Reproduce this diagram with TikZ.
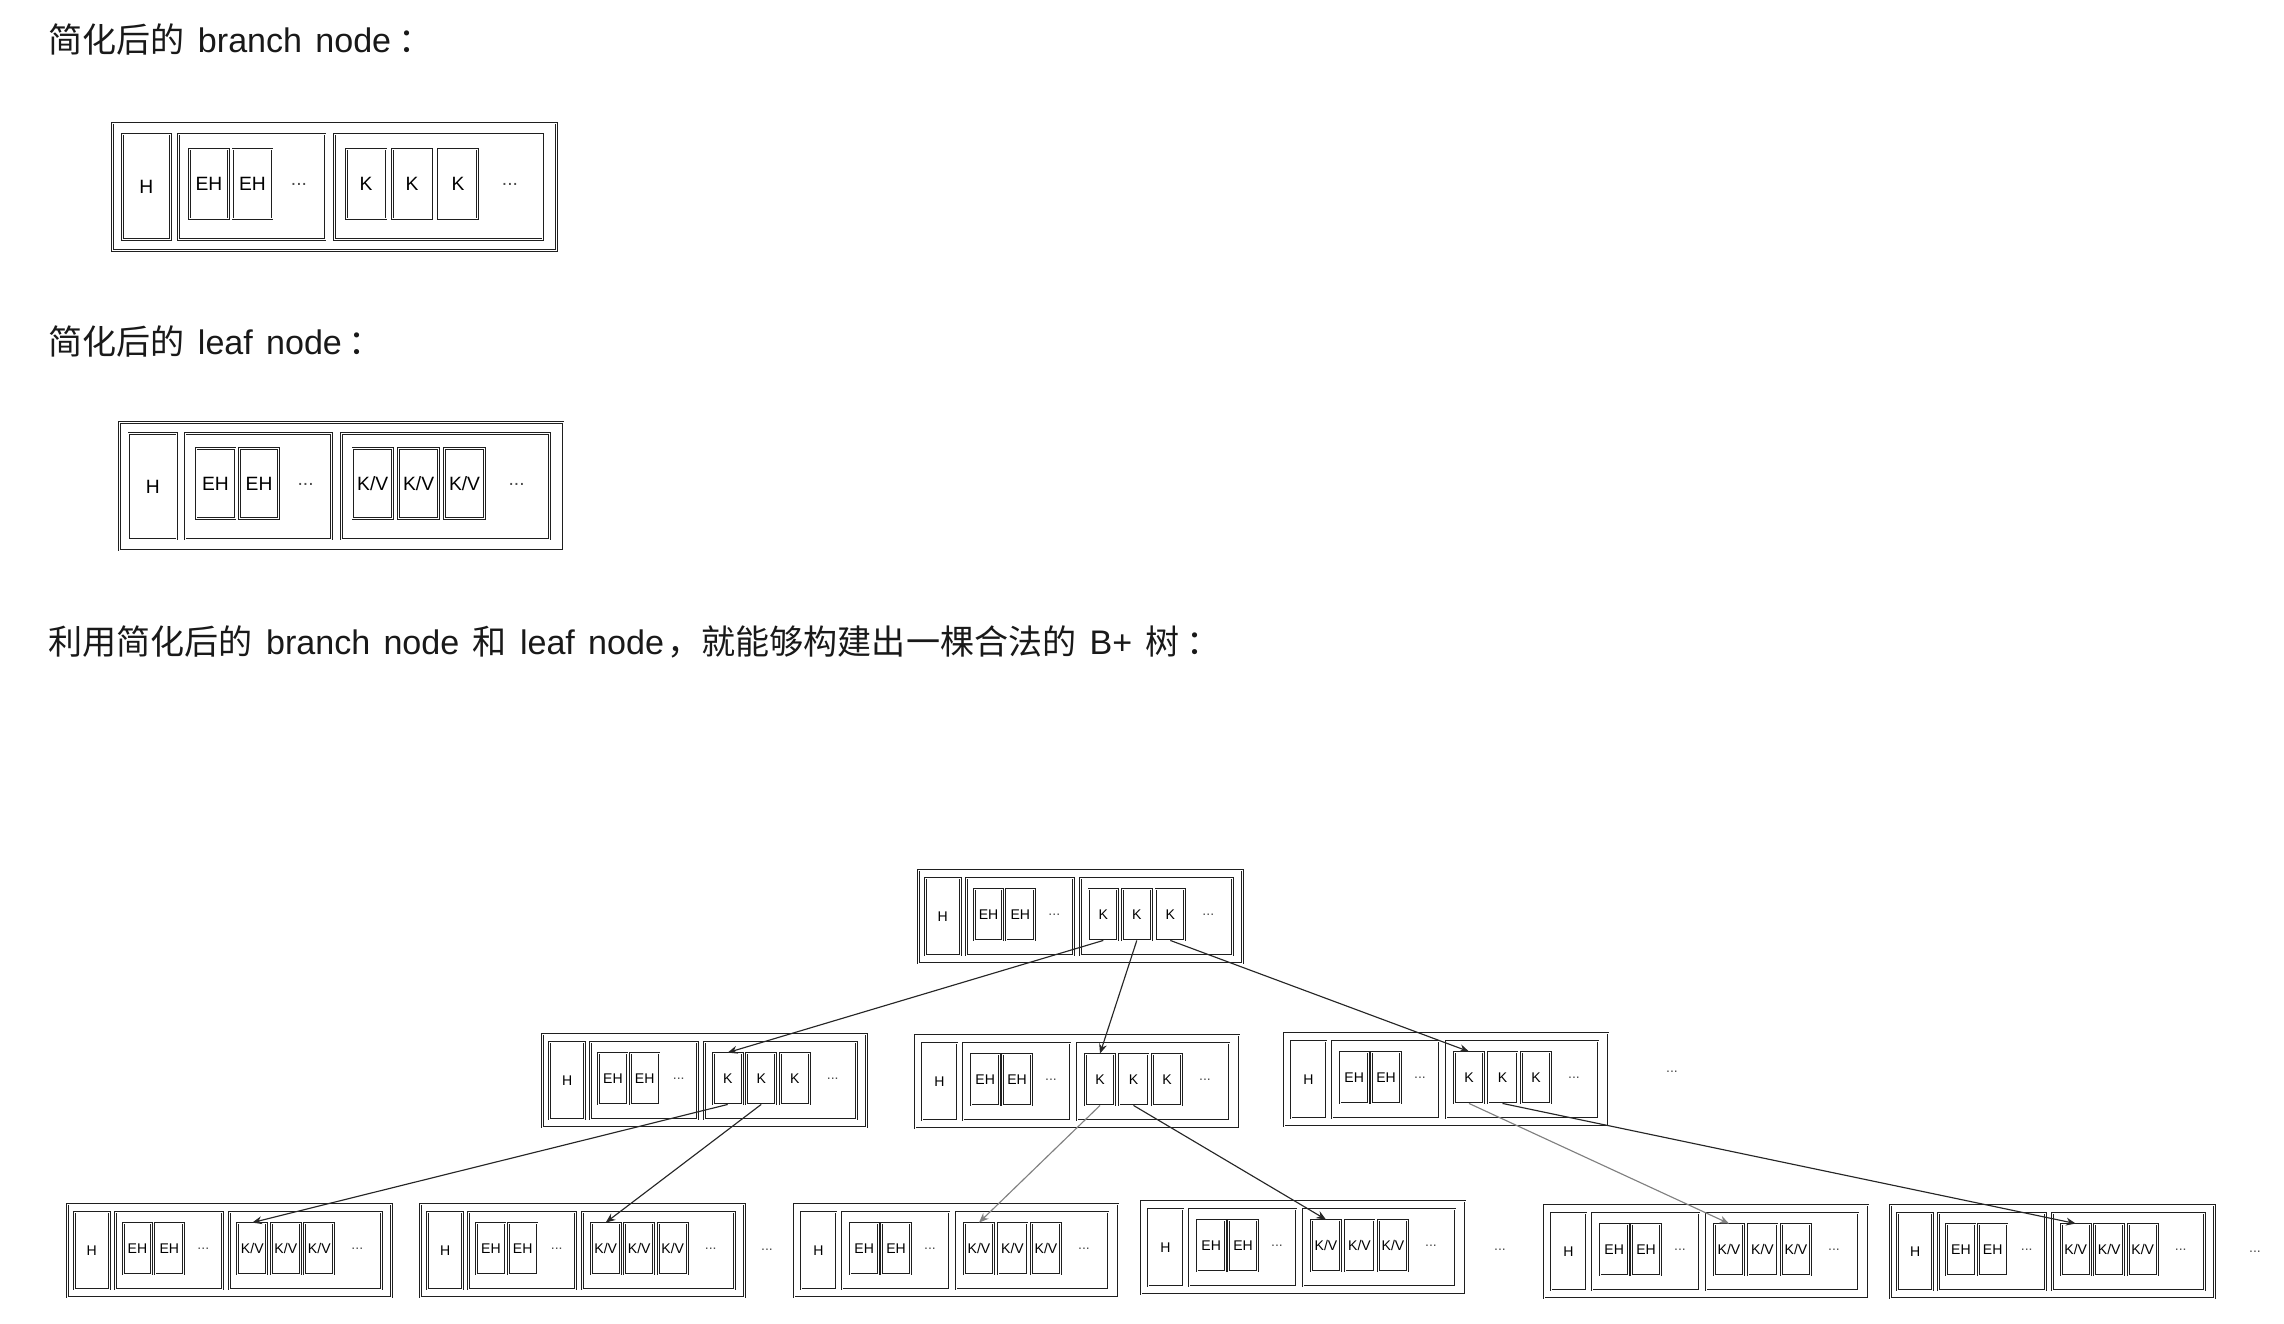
\documentclass[tikz,border=0pt]{standalone}
\usepackage{fontspec}
\setmainfont{Liberation Sans}[WordSpace=1.4]
\newfontfamily\cjk{Noto Sans CJK SC}
\usepackage{xcolor}
\usepackage{tikz}
\usetikzlibrary{arrows.meta}
\pgfdeclarelayer{nodelayer}
\pgfdeclarelayer{edgelayer}
\pgfsetlayers{main,nodelayer,edgelayer}
\tikzstyle{cell}=[draw=black!88, double=white, double distance=0.5pt, line width=0.5pt, inner sep=0pt, transform shape, font=\fontsize{8}{9.6}\selectfont]
\tikzstyle{dots}=[inner sep=0pt, transform shape, text=black!70, font=\fontsize{8}{9.6}\selectfont]
\tikzstyle{caption}=[inner sep=0pt, anchor=base west, text=black!90, font=\fontsize{19.4}{23}\selectfont]
\tikzstyle{ptr}=[-{Stealth[length=5.5pt, width=4.5pt]}, draw=black!85, line width=0.65pt]
\tikzstyle{ptr_faint}=[ptr, draw=black!50]
\newcommand{\colonmark}{\hspace{0.2em}{\cjk ：}}
\tikzset{
  pics/bpnode/.style={code={
    \node [style=cell, minimum width=6.48cm, minimum height=1.86cm] (-box) at (162, 46.5) {};
    \node [style=cell, minimum width=0.7cm, minimum height=1.54cm] (-h) at (24.5, 46.5) {H};
    \node [style=cell, minimum width=2.14cm, minimum height=1.54cm] (-eg) at (101.5, 46.5) {};
    \node [style=cell, minimum width=0.57cm, minimum height=1.02cm] (-e1) at (70.2, 44.5) {EH};
    \node [style=cell, minimum width=0.57cm, minimum height=1.02cm] (-e2) at (102, 44.5) {EH};
    \node [style=dots] (-ed) at (136, 45) {...};
    \node [style=cell, minimum width=3.04cm, minimum height=1.54cm] (-kg) at (238, 46.5) {};
    \foreach \i/\x in {1/185, 2/218.5, 3/252}
      \node [style=cell, minimum width=0.58cm, minimum height=1.02cm] (-k\i) at (\x, 44.5) {#1};
    \node [style=dots] (-kd) at (290, 45) {...};
  }}
}

\begin{document}
\begin{tikzpicture}[x=0.02cm, y=-0.02cm]
    \useasboundingbox (0, 0) rectangle (2284, 1324);

    %captions
    \node [style=caption] (cap1) at (48, 53) {{\cjk 简化后的} branch node\colonmark};
    \node [style=caption] (cap2) at (48, 355) {{\cjk 简化后的} leaf node\colonmark};
    \node [style=caption] (cap3) at (48, 654) {{\cjk 利用简化后的} branch node {\cjk 和} leaf node\hspace{0.1em}{\cjk ，就能够构建出一棵合法的} B+ {\cjk 树}\colonmark};

    \begin{pgfonlayer}{nodelayer}
        %single nodes
        \pic [scale=1.37] (bbranch) at (112.7, 123) {bpnode=K};
        \pic [scale=1.37] (bleaf) at (119.3, 422.7) {bpnode=K/V};

        %Level 1
        \pic (root) at (918.3, 870) {bpnode=K};

        %Level 2
        \pic (l2a) at (542.7, 1034) {bpnode=K};
        \pic (l2b) at (915, 1035) {bpnode=K};
        \pic (l2c) at (1284, 1033) {bpnode=K};
        \node [style=dots] (l2more) at (1672, 1072) {...};

        %Level 3
        \pic (lf1) at (67.3, 1204) {bpnode=K/V};
        \pic (lf2) at (420.7, 1204) {bpnode=K/V};
        \node [style=dots] (lfmore1) at (767, 1250) {...};
        \pic (lf3) at (794, 1204) {bpnode=K/V};
        \pic (lf4) at (1141, 1201) {bpnode=K/V};
        \node [style=dots] (lfmore2) at (1500, 1250) {...};
        \pic (lf5) at (1544, 1205) {bpnode=K/V};
        \pic (lf6) at (1890.7, 1205) {bpnode=K/V};
        \node [style=dots] (lfmore3) at (2255, 1252) {...};
    \end{pgfonlayer}

    \begin{pgfonlayer}{edgelayer}
        \draw [style=ptr] (root-k1.south) -- (l2a-k1.north);
        \draw [style=ptr] (root-k2.south) -- (l2b-k1.north);
        \draw [style=ptr] (root-k3.south) -- (l2c-k1.north);

        \draw [style=ptr] (l2a-k1.south) -- (lf1-k1.north);
        \draw [style=ptr] (l2a-k2.south) -- (lf2-k1.north);
        \draw [style=ptr_faint] (l2b-k1.south) -- (lf3-k1.north);
        \draw [style=ptr] (l2b-k2.south) -- (lf4-k1.north);
        \draw [style=ptr_faint] (l2c-k1.south) -- (lf5-k1.north);
        \draw [style=ptr] (l2c-k2.south) -- (lf6-k1.north);
    \end{pgfonlayer}
\end{tikzpicture}
\end{document}
